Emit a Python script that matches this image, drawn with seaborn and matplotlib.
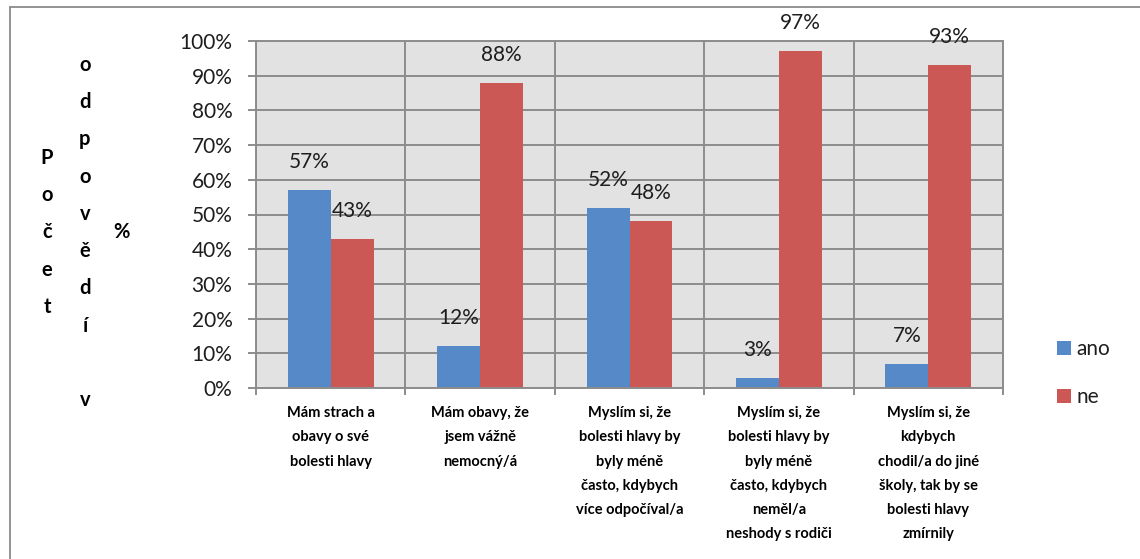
import matplotlib
matplotlib.use("Agg")
import matplotlib.pyplot as plt
import seaborn as sns
import pandas as pd
import numpy as np
from matplotlib.lines import Line2D

# ---- data -------------------------------------------------------------
categories = [
    "Mám strach a\nobavy o své\nbolesti hlavy",
    "Mám obavy, že\njsem vážně\nnemocný/á",
    "Myslím si, že\nbolesti hlavy by\nbyly méně\nčasto, kdybych\nvíce odpočíval/a",
    "Myslím si, že\nbolesti hlavy by\nbyly méně\nčasto, kdybych\nneměl/a\nneshody s rodiči",
    "Myslím si, že\nkdybych\nchodil/a do jiné\nškoly, tak by se\nbolesti hlavy\nzmírnily",
]
series = ["ano", "ne"]
ano = [57, 12, 52, 3, 7]
ne = [43, 88, 48, 97, 93]
yticks = [0, 10, 20, 30, 40, 50, 60, 70, 80, 90, 100]
ylabel_columns = ["Počet", "odpovědí v", "%"]

colors = ["#5689C8", "#CB5854"]
grid_col = "#8C8C8C"
text_col = "#1E1E1E"

df = pd.DataFrame({
    "kategorie": categories * 2,
    "odpověď": [series[0]] * len(categories) + [series[1]] * len(categories),
    "hodnota": ano + ne,
})

# ---- style ------------------------------------------------------------
sns.set_theme(style="white")
plt.rcParams["font.family"] = ["Lato", "DejaVu Sans"]

W, H = 1140, 559
fig = plt.figure(figsize=(W / 100, H / 100), dpi=100)
ax = fig.add_axes([256 / W, 1 - 388 / H, (1003 - 256) / W, (388 - 41) / H])
ax.set_facecolor("#E2E2E2")

sns.barplot(data=df, x="kategorie", y="hodnota", hue="odpověď",
            hue_order=series, order=categories, palette=colors,
            width=0.575, saturation=1, linewidth=0, ax=ax)

# value labels above the bars
for cont, vals in zip(ax.containers, [ano, ne]):
    ax.bar_label(cont, labels=[f"{v}%" for v in vals], padding=13,
                 fontsize=15, color=text_col)

# axes, ticks and grid
ax.set_ylim(0, 100)
ax.set_xlim(-0.5, len(categories) - 0.5)
ax.set_yticks(yticks)
ax.set_yticklabels([f"{t}%" for t in yticks], fontsize=15, color=text_col)
ax.set_xticks(np.arange(-0.5, len(categories)), minor=True)
ax.set_xticks(range(len(categories)))
ax.set_xticklabels(categories, fontsize=10.5, fontweight="bold", color="black",
                   linespacing=1.93, va="top")
ax.set_xlabel("")
ax.set_ylabel("")

ax.set_axisbelow(True)
ax.yaxis.grid(True, color=grid_col, linewidth=1.4)
ax.xaxis.grid(True, which="minor", color=grid_col, linewidth=1.4)
ax.xaxis.grid(False, which="major")
ax.tick_params(axis="x", which="major", length=0, pad=13)
ax.tick_params(axis="x", which="minor", length=5, width=1.4, color=grid_col,
               direction="out", bottom=True)
ax.tick_params(axis="y", length=6, width=1.4, color=grid_col, pad=11,
               direction="out", left=True)
for s in ax.spines.values():
    s.set_color(grid_col)
    s.set_linewidth(1.4)

# legend
handles, labels = ax.get_legend_handles_labels()
ax.legend(handles, labels, loc="center left",
          bbox_to_anchor=(1057 / W, 1 - 373 / H), bbox_transform=fig.transFigure,
          frameon=False, fontsize=15, handlelength=0.65, handleheight=0.65,
          handletextpad=0.3, labelspacing=1.35, borderpad=0, borderaxespad=0,
          labelcolor=text_col)

# vertical stacked axis title, one column per word group
col_x = [47, 85, 121]
row_step = 37.3
center_y = 232.5
for cx, word in zip(col_x, ylabel_columns):
    n = len(word)
    for i, ch in enumerate(word):
        if ch == " ":
            continue
        y = center_y + (i - (n - 1) / 2) * row_step
        fig.text(cx / W, 1 - y / H, ch, ha="center", va="center",
                 fontsize=14.5, fontweight="bold", color="black")

# chart frame edges
fig.add_artist(Line2D([10 / W, 1], [1 - 6.5 / H, 1 - 6.5 / H],
                      transform=fig.transFigure, color="#8A8A8A", linewidth=1.3))
fig.add_artist(Line2D([10 / W, 10 / W], [0, 1 - 6.5 / H],
                      transform=fig.transFigure, color="#8A8A8A", linewidth=1.3))

fig.savefig("out.png", dpi=100, facecolor="white")
